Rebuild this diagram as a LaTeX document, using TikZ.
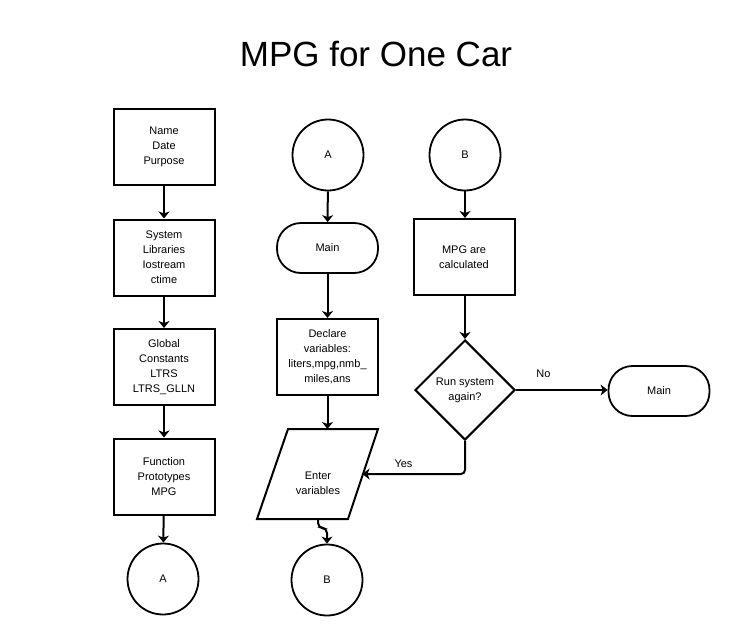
\documentclass[tikz,border=0pt]{standalone}
\usepackage{fontspec}
\setmainfont{Liberation Sans}
\usetikzlibrary{arrows.meta,shapes.geometric}

\tikzstyle{block}=[rectangle, draw, line width=2pt, minimum width=101pt, minimum height=76pt, inner sep=2pt, align=center, font=\fontsize{11}{15}\selectfont]
\tikzstyle{connector}=[circle, draw, line width=1.8pt, minimum size=71pt, font=\fontsize{11}{15}\selectfont]
\tikzstyle{terminal}=[rectangle, draw, line width=1.8pt, rounded corners=24pt, minimum width=101pt, minimum height=50pt, font=\fontsize{11}{15}\selectfont]
\tikzstyle{decision}=[diamond, draw, line width=2pt, aspect=1, minimum width=100pt, minimum height=100pt, inner sep=0pt, align=center, font=\fontsize{11}{15}\selectfont]
\tikzstyle{flow}=[-{Stealth[length=7pt,width=11pt,inset=2pt]}, line width=2pt]
\tikzstyle{tag}=[font=\fontsize{11}{15}\selectfont]

\begin{document}
\begin{tikzpicture}[x=1pt,y=-1pt]
\useasboundingbox (0,0) rectangle (730,640);

\node[font=\fontsize{35}{40}\selectfont](title) at (376,54) {MPG for One Car};

% left column
\node[block](head) at (164,146.5) {Name\\Date\\Purpose};
\node[block](libs) at (164,257.5) {System\\Libraries\\Iostream\\ctime};
\node[block](consts) at (164,367) {Global\\Constants\\LTRS\\LTRS\_GLLN};
\node[block](protos) at (164,476.5) {Function\\Prototypes\\MPG};
\node[connector](aleft) at (163,579) {A};

% middle column
\node[connector](amid) at (328,155) {A};
\node[terminal](mainmid) at (327.5,248) {Main};
\node[block](declare) at (327.5,357) {Declare\\variables:\\liters,mpg,nmb\_\\miles,ans};
\coordinate (p1) at (288,429);
\coordinate (p2) at (378,429);
\coordinate (p3) at (348,519);
\coordinate (p4) at (257,519);
\draw[line width=2pt] (p1) -- (p2) -- (p3) -- (p4) -- cycle;
\node[tag,align=center](enter) at (318,483) {Enter\\variables};
\coordinate (ptop) at (327.5,429);
\coordinate (pbot) at (318,519);
\coordinate (pin) at (362.5,474);
\node[connector](bmid) at (327,580) {B};

% right column
\node[connector](bright) at (465,155) {B};
\node[block](calc) at (464,257) {MPG are\\calculated};
\node[decision](again) at (465,390) {Run system\\again?};
\node[terminal](mainright) at (659,391) {Main};

\draw[flow] (head) -- (libs);
\draw[flow] (libs) -- (consts);
\draw[flow] (consts) -- (protos);
\draw[flow] (protos) -- (aleft);

\draw[flow] (amid) -- (mainmid);
\draw[flow] (mainmid) -- (declare);
\draw[flow] (declare.south) -- (ptop);
\draw[flow, rounded corners=5pt] (pbot) -- ++(0,9) -| (bmid.north);

\draw[flow] (bright) -- (bright |- calc.north);
\draw[flow] (calc.south -| again.north) -- (again.north);
\draw[flow] (again.east) -- node[tag, above=8pt, pos=0.3] {No} (again.east -| mainright.west);
\draw[flow, rounded corners=4pt] (again.south) |- node[tag, above=2pt, pos=0.8] {Yes} (pin);
\end{tikzpicture}
\end{document}
